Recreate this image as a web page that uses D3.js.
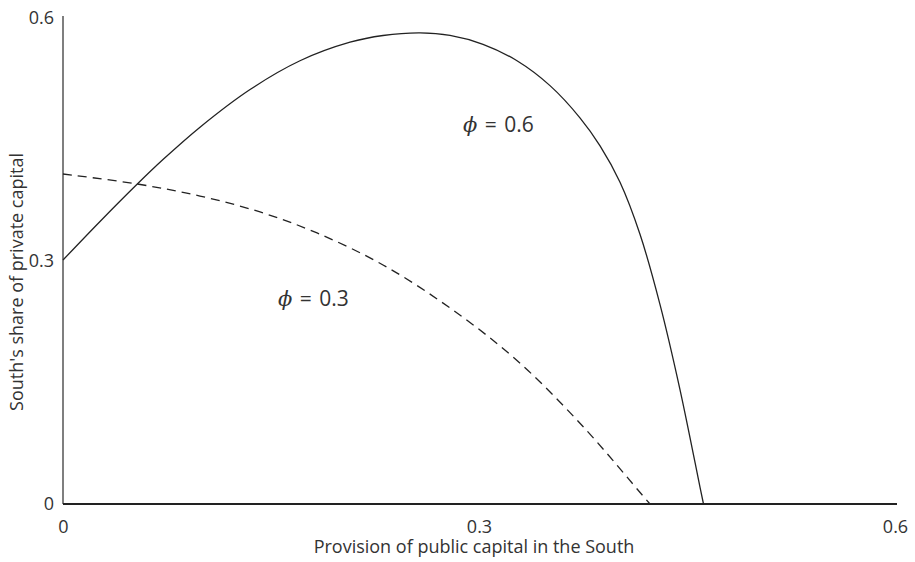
<!DOCTYPE html>
<html>
<head>
<meta charset="utf-8">
<script src="https://cdn.jsdelivr.net/npm/d3@7/dist/d3.min.js"></script>
<style>
  html, body { margin: 0; padding: 0; background: #fff; }
  svg text { font-family: "Open Sans", sans-serif; fill: #333; }
</style>
</head>
<body>
<svg id="chart" width="915" height="562"></svg>
<script>
// ---- data ----
const xTicks = [0, 0.3, 0.6];
const yTicks = [0, 0.3, 0.6];
const tickLabels = ["0", "0.3", "0.6"];

// phi = 0.6 (solid)
const solidX = [0, 0.0267, 0.0534, 0.0721, 0.0988, 0.1349, 0.1709, 0.2070, 0.2308, 0.2575, 0.2791, 0.3029, 0.3274, 0.3512, 0.3728, 0.3873, 0.4017, 0.4161, 0.4305, 0.4449, 0.4594, 0.4619];
const solidY = [0.3012, 0.3488, 0.3947, 0.4252, 0.4652, 0.5117, 0.5472, 0.5701, 0.5784, 0.5816, 0.5785, 0.5675, 0.5472, 0.5165, 0.4768, 0.4422, 0.3972, 0.3330, 0.2465, 0.1416, 0.0206, 0];

// phi = 0.3 (dashed)
const dashX = [0, 0.0534, 0.0988, 0.1421, 0.1832, 0.2308, 0.2791, 0.3274, 0.3750, 0.4183, 0.4233];
const dashY = [0.4074, 0.3951, 0.3802, 0.3605, 0.3346, 0.2951, 0.2420, 0.1772, 0.0957, 0.0099, 0];

const curveLabels = [
  { x: 0.2885, y: 0.4593, value: "0.6" },
  { x: 0.1550, y: 0.2444, value: "0.3" }
];

const xTitle = "Provision of public capital in the South";
const yTitle = "South's share of private capital";

// ---- drawing ----
const svg = d3.select("#chart");
const x = d3.scaleLinear().domain([0, 0.6]).range([63, 895]);
const y = d3.scaleLinear().domain([0, 0.6]).range([504, 18]);

// y axis
const yAxis = svg.append("g").attr("transform", `translate(${x(0)},0)`)
  .call(d3.axisLeft(y).tickValues(yTicks).tickFormat((d, i) => tickLabels[i]).tickSize(0).tickPadding(9));
yAxis.select(".domain").attr("stroke", "#555").attr("stroke-width", 1.5)
  .attr("d", `M0,${y(0)}V16`);
yAxis.selectAll("text").style("font-size", "18px").attr("fill", "#333");

// x axis
const xAxis = svg.append("g").attr("transform", `translate(0,${y(0)})`)
  .call(d3.axisBottom(x).tickValues(xTicks).tickFormat((d, i) => tickLabels[i]).tickSize(0).tickPadding(16));
xAxis.select(".domain").attr("stroke", "#222").attr("stroke-width", 2)
  .attr("d", `M${x(0)},0H897`);
xAxis.selectAll("text").style("font-size", "18px").attr("fill", "#333");

// curves
const line = d3.line().x(d => x(d[0])).y(d => y(d[1])).curve(d3.curveCatmullRom.alpha(0.5));
svg.append("path").datum(solidX.map((v, i) => [v, solidY[i]]))
  .attr("d", line).attr("fill", "none").attr("stroke", "#222").attr("stroke-width", 1.3);
svg.append("path").datum(dashX.map((v, i) => [v, dashY[i]]))
  .attr("d", line).attr("fill", "none").attr("stroke", "#222").attr("stroke-width", 1.3)
  .attr("stroke-dasharray", "9,6");

// curve labels
curveLabels.forEach(l => {
  const t = svg.append("text").attr("x", x(l.x)).attr("y", y(l.y))
    .style("font-size", "21px").style("word-spacing", "2px");
  t.append("tspan").style("font-style", "italic").style("font-family", "'DejaVu Serif', serif").text("ϕ");
  t.append("tspan").text(" = " + l.value);
});

// axis titles
svg.append("text").attr("x", 474).attr("y", 553).attr("text-anchor", "middle")
  .style("font-size", "18px").text(xTitle);
svg.append("text").attr("transform", "translate(23,282) rotate(-90)").attr("text-anchor", "middle")
  .style("font-size", "18px").text(yTitle);
</script>
</body>
</html>
